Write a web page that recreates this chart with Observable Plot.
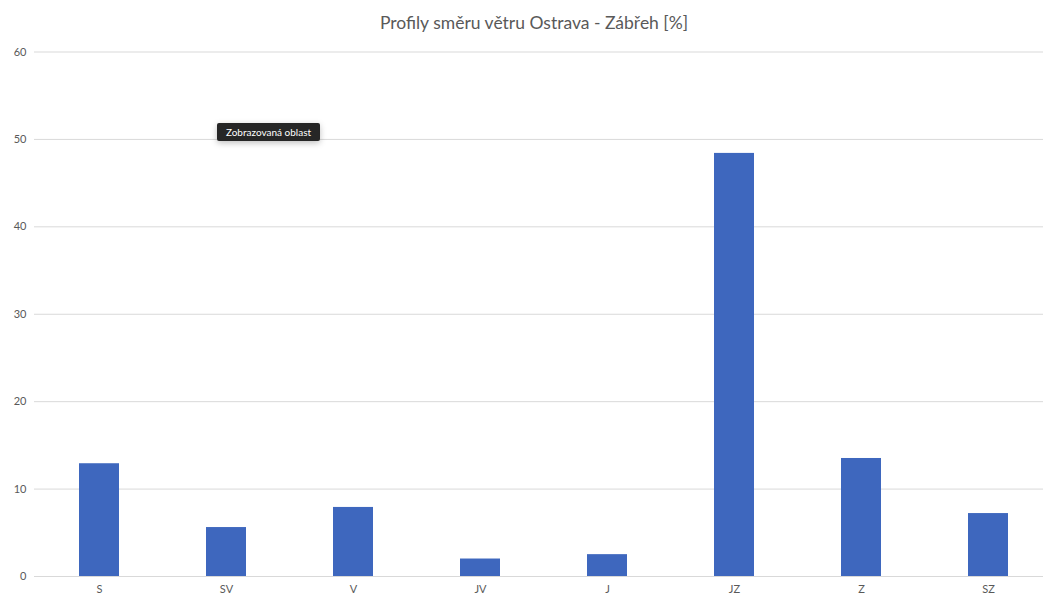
<!DOCTYPE html>
<html>
<head>
<meta charset="utf-8">
<script src="https://cdn.jsdelivr.net/npm/d3@7"></script>
<script src="https://cdn.jsdelivr.net/npm/@observablehq/plot@0.6"></script>
<style>
  html, body { margin: 0; padding: 0; background: #fff; overflow: hidden; width: 1043px; height: 597px; }
  #wrap { position: relative; width: 1043px; height: 597px; overflow: hidden; }
  #title { height: 40px; line-height: 46px; text-align: center; font-family: Lato, "Open Sans", sans-serif; font-size: 17.5px; color: #595959; width: 1068px; }
  #chart { width: 1068px; }
  #chart svg { max-width: none !important; width: 1068px !important; height: 557px !important; display: block; }
  #tip { position: absolute; left: 217px; top: 123px; width: 103px; height: 18px; background: #262626; color: #fff; font-family: Lato, "Open Sans", sans-serif; font-size: 10px; line-height: 18px; text-align: center; border-radius: 2px; box-shadow: 0 2px 6px rgba(0,0,0,0.25); }
</style>
</head>
<body>
<div id="wrap">
  <div id="title">Profily směru větru Ostrava - Zábřeh [%]</div>
  <div id="chart"></div>
  <div id="tip">Zobrazovaná oblast</div>
</div>
<script>
const directions = ["S", "SV", "V", "JV", "J", "JZ", "Z", "SZ"];
const shares = [12.9, 5.6, 7.9, 2.0, 2.5, 48.4, 13.5, 7.2];
const yTicks = [0, 10, 20, 30, 40, 50, 60];

const data = directions.map((d, i) => ({direction: d, value: shares[i]}));

const chart = Plot.plot({
  width: 1068,
  height: 557,
  marginTop: 11.5,
  marginBottom: 21,
  marginLeft: 34,
  marginRight: 15,
  style: {fontFamily: "Lato, 'Open Sans', sans-serif", fontSize: "11px", color: "#595959", background: "#fff"},
  x: {domain: directions, paddingInner: 0.686, paddingOuter: 0.343, label: null, tickSize: 0, tickPadding: 9},
  y: {domain: [0, 60], ticks: yTicks, label: null, tickSize: 0, tickPadding: 8},
  marks: [
    Plot.gridY(yTicks, {stroke: "#d9d9d9", strokeOpacity: 1, strokeWidth: 1}),
    Plot.barY(data, {x: "direction", y: "value", fill: "#3e67be"})
  ]
});
document.getElementById("chart").appendChild(chart);
</script>
</body>
</html>
